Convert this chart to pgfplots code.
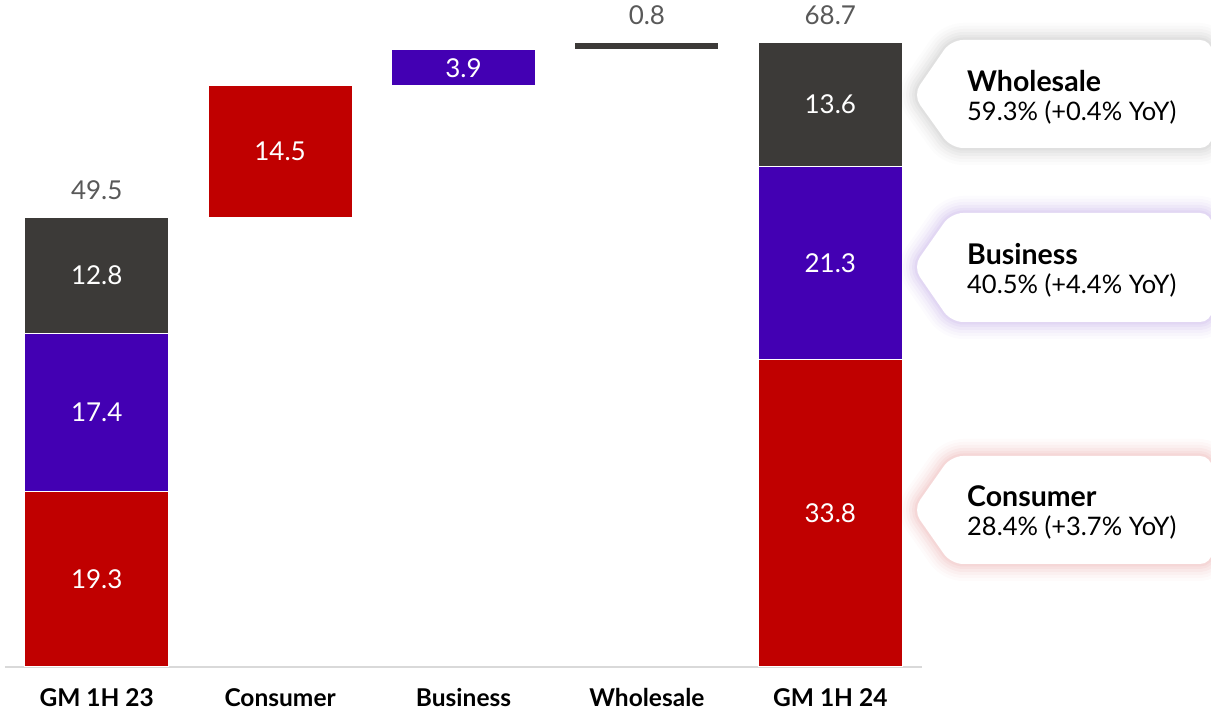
\documentclass[border=0pt]{standalone}
\usepackage{fontspec}
\setmainfont{Lato}
\usepackage{pgfplots}
\pgfplotsset{compat=1.18}
\definecolor{cRed}{HTML}{C00000}
\definecolor{cPur}{HTML}{4300B3}
\definecolor{cGry}{HTML}{3C3A38}
\definecolor{cLbl}{HTML}{595959}
\definecolor{cAx}{HTML}{D9D9D9}
\tikzset{
  vl/.style={font=\fontsize{26}{30}\selectfont, text=white},
  tl/.style={font=\fontsize{26}{30}\selectfont, text=cLbl, anchor=base, yshift=18pt},
}
\newcommand{\callout}[7]{%
  \def\cpath{(1080,711-#1) -- (1212,711-#1) -- (1212,711-#2) -- (951,711-#2) -- (913,711-#3) -- (951,711-#1) -- cycle}
  \foreach \w/\o in {34/0.015,28/0.02,22/0.025,16/0.03,10/0.035,5/0.04}{%
    \draw[draw=#4, draw opacity=\o, line width=\w pt, line join=round, rounded corners=12pt] \cpath;}
  \fill[white, rounded corners=12pt] \cpath;
  \node[anchor=base west, inner sep=0pt, font=\fontsize{28.5}{32}\selectfont\bfseries] at (967,711-#7-2) {#5};
  \node[anchor=base west, inner sep=0pt, font=\fontsize{25.5}{29}\selectfont] at (967,711-#7-31) {#6};
}
\begin{document}
\begin{tikzpicture}[x=1pt,y=1pt]
\begin{axis}[
  at={(5pt,44pt)}, anchor=south west,
  scale only axis, width=917pt, height=667pt,
  xmin=-0.5, xmax=4.5, ymin=0, ymax=73.4,
  hide y axis,
  axis x line=bottom,
  x axis line style={-, draw=cAx, line width=1.5pt},
  xtick={0,1,2,3,4},
  xticklabels={GM 1H 23, Consumer, Business, Wholesale, GM 1H 24},
  major tick length=0pt,
  xticklabel style={font=\fontsize{24.5}{28}\selectfont\bfseries, anchor=base, yshift=-40pt, inner sep=0pt},
  ybar stacked, bar width=144pt,
  clip=false,
]
\addplot[fill=none, draw=none] coordinates {(0,0) (1,49.5) (2,64.0) (3,67.9) (4,0)};
\addplot[fill=cRed, draw=white, line width=1pt] coordinates {(0,19.3) (1,14.5) (2,0) (3,0) (4,33.8)};
\addplot[fill=cPur, draw=white, line width=1pt] coordinates {(0,17.4) (1,0) (2,3.9) (3,0) (4,21.3)};
\addplot[fill=cGry, draw=white, line width=1pt] coordinates {(0,12.8) (1,0) (2,0) (3,0.8) (4,13.6)};
\coordinate (a1) at (axis cs:0,9.65);
\coordinate (a2) at (axis cs:0,28.0);
\coordinate (a3) at (axis cs:0,43.1);
\coordinate (a4) at (axis cs:1,56.75);
\coordinate (a5) at (axis cs:2,65.95);
\coordinate (a6) at (axis cs:4,16.9);
\coordinate (a7) at (axis cs:4,44.45);
\coordinate (a8) at (axis cs:4,61.9);
\coordinate (t1) at (axis cs:0,49.5);
\coordinate (t2) at (axis cs:3,68.7);
\coordinate (t3) at (axis cs:4,68.7);
\end{axis}
\node[vl] at (a1) {19.3};
\node[vl] at (a2) {17.4};
\node[vl] at (a3) {12.8};
\node[vl] at (a4) {14.5};
\node[vl] at (a5) {3.9};
\node[vl] at (a6) {33.8};
\node[vl] at (a7) {21.3};
\node[vl] at (a8) {13.6};
\node[tl] at (t1) {49.5};
\node[tl] at (t2) {0.8};
\node[tl] at (t3) {68.7};
\callout{40}{148}{95}{cGry}{Wholesale}{59.3\% (+0.4\% YoY)}{90}
\callout{213}{322}{267}{cPur}{Business}{40.5\% (+4.4\% YoY)}{263}
\callout{456}{564}{510}{cRed}{Consumer}{28.4\% (+3.7\% YoY)}{505}
\pgfresetboundingbox
\useasboundingbox (0,0) rectangle (1211,711);
\end{tikzpicture}
\end{document}
